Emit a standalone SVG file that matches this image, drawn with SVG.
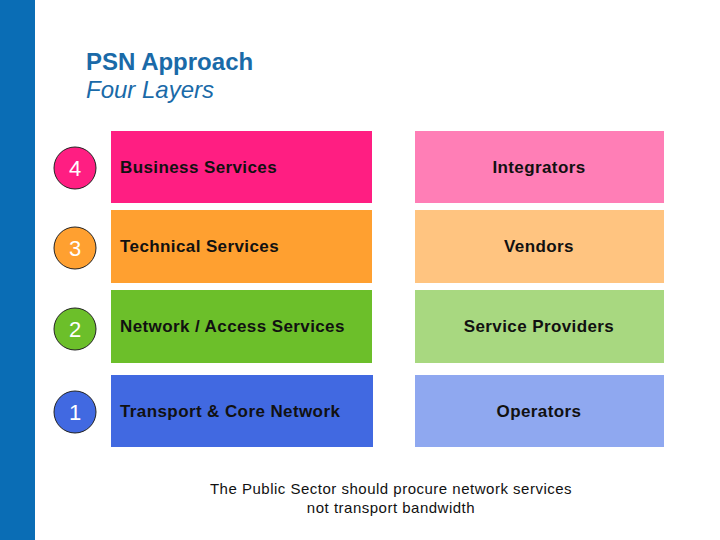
<svg xmlns="http://www.w3.org/2000/svg" width="720" height="540" viewBox="0 0 720 540">
<style>
.lbl{font-family:"Liberation Sans",Arial,sans-serif;font-size:17px;font-weight:bold;fill:#111;letter-spacing:0.4px}
.num{font-family:"Liberation Sans",Arial,sans-serif;font-size:22px;fill:#fff}
.circ{stroke:#222;stroke-width:1}
.note{font-family:"Liberation Sans",Arial,sans-serif;font-size:15px;fill:#111;letter-spacing:0.5px}
.ttl{font-family:"Liberation Sans",Arial,sans-serif;font-size:24px;fill:#1a6aa8}
</style>
<rect x="0" y="0" width="720" height="540" fill="#fff"/>
<rect x="0" y="0" width="35" height="540" fill="#0a6db5"/>
<g id="title">
<text class="ttl" x="86" y="70" font-weight="bold">PSN Approach</text>
<text class="ttl" x="86" y="98" font-style="italic">Four Layers</text>
</g>
<g id="layer4">
<circle class="circ" cx="75" cy="168" r="21" fill="#ff1e82"/>
<text class="num" x="75" y="176" text-anchor="middle">4</text>
<rect x="111" y="131" width="261" height="72" fill="#ff1e82"/>
<text class="lbl" x="120" y="173">Business Services</text>
<rect x="415" y="131" width="249" height="72" fill="#ff7eb6"/>
<text class="lbl" x="539" y="173" text-anchor="middle">Integrators</text>
</g>
<g id="layer3">
<circle class="circ" cx="75" cy="248" r="21" fill="#ffa030"/>
<text class="num" x="75" y="256" text-anchor="middle">3</text>
<rect x="111" y="210" width="261" height="73" fill="#ffa030"/>
<text class="lbl" x="120" y="252">Technical Services</text>
<rect x="415" y="210" width="249" height="73" fill="#ffc480"/>
<text class="lbl" x="539" y="252" text-anchor="middle">Vendors</text>
</g>
<g id="layer2">
<circle class="circ" cx="75" cy="329" r="21" fill="#6cbf2a"/>
<text class="num" x="75" y="337" text-anchor="middle">2</text>
<rect x="111" y="290" width="261" height="73" fill="#6cbf2a"/>
<text class="lbl" x="120" y="332">Network / Access Services</text>
<rect x="415" y="290" width="249" height="73" fill="#a8d880"/>
<text class="lbl" x="539" y="332" text-anchor="middle">Service Providers</text>
</g>
<g id="layer1">
<circle class="circ" cx="75" cy="412" r="21" fill="#4169e1"/>
<text class="num" x="75" y="420" text-anchor="middle">1</text>
<rect x="111" y="375" width="262" height="72" fill="#4169e1"/>
<text class="lbl" x="120" y="417">Transport &amp; Core Network</text>
<rect x="415" y="375" width="249" height="72" fill="#8fa8f0"/>
<text class="lbl" x="539" y="417" text-anchor="middle">Operators</text>
</g>
<g id="connectors"/>
<g id="note">
<text class="note" x="391" y="494" text-anchor="middle">The Public Sector should procure network services</text>
<text class="note" x="391" y="513" text-anchor="middle">not transport bandwidth</text>
</g>
</svg>
